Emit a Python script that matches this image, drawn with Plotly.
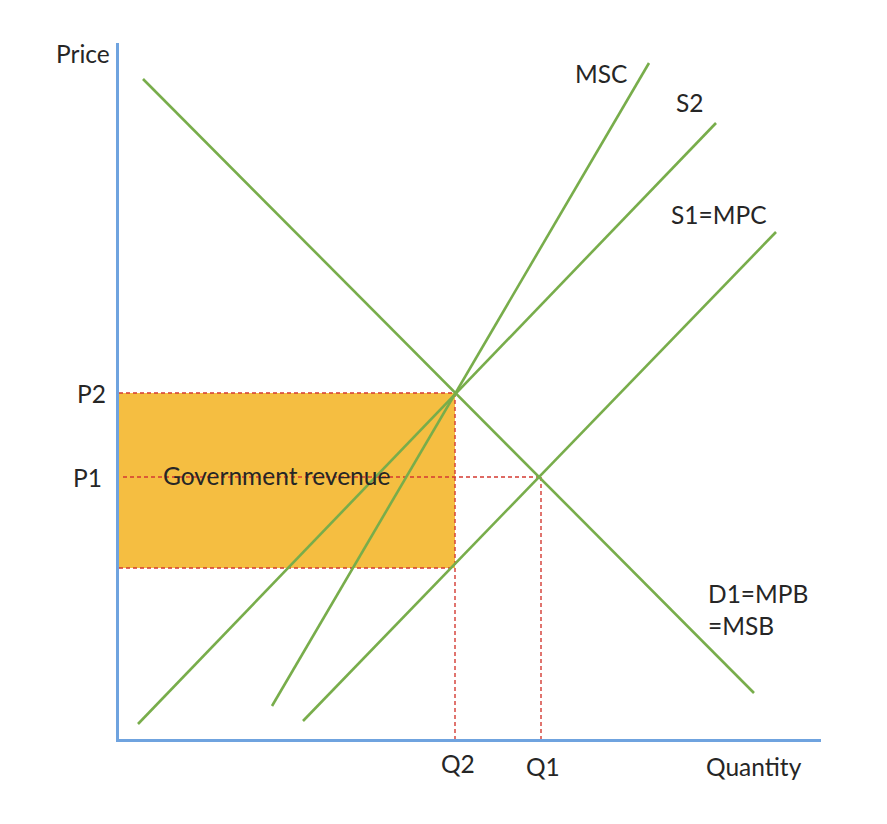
import plotly.graph_objects as go

# Curve endpoints (quantity, price) in chart units
demand_q = [24, 635]
demand_p = [660, 46]
s1_q = [184, 657]
s1_p = [18, 507]
s2_q = [19, 597]
s2_p = [15, 616]
msc_q = [153, 530]
msc_p = [33, 676]

# Equilibrium levels
Q1, Q2 = 422, 336
P1, P2 = 262, 346
P_LOW = 171  # price received by producers after tax

X_MAX, Y_MAX = 702, 696

green = "#78AD4B"
red = "#D33A32"
fontfam = "Lato, 'Open Sans', sans-serif"
txt = "#262626"

fig = go.Figure()

# Government revenue rectangle
fig.add_trace(go.Scatter(
    x=[0, Q2, Q2, 0, 0], y=[P_LOW, P_LOW, P2, P2, P_LOW],
    fill="toself", fillcolor="#F5BE41", line=dict(width=0),
    mode="lines", hoverinfo="skip", showlegend=False))

dash = dict(color=red, width=1.4, dash="4px,3px")
# dashed guide lines
fig.add_trace(go.Scatter(x=[0, Q2], y=[P2, P2], mode="lines", line=dash, showlegend=False))
fig.add_trace(go.Scatter(x=[Q2, Q2], y=[P2, 0], mode="lines", line=dash, showlegend=False))
fig.add_trace(go.Scatter(x=[4, Q1], y=[P1, P1], mode="lines", line=dash, showlegend=False))
fig.add_trace(go.Scatter(x=[Q1, Q1], y=[P1, 0], mode="lines", line=dash, showlegend=False))
fig.add_trace(go.Scatter(x=[0, Q2], y=[P_LOW, P_LOW], mode="lines", line=dash, showlegend=False))

# Curves
for xs, ys in [(demand_q, demand_p), (s1_q, s1_p), (s2_q, s2_p), (msc_q, msc_p)]:
    fig.add_trace(go.Scatter(x=xs, y=ys, mode="lines",
                             line=dict(color=green, width=2.6), showlegend=False))

def ann(x, y, text, xanchor="center"):
    # positions given in chart units, converted to paper fractions so labels
    # outside the axis range are still drawn
    fig.add_annotation(x=x / X_MAX, y=y / Y_MAX, text=text, showarrow=False,
                       xref="paper", yref="paper",
                       xanchor=xanchor, yanchor="middle",
                       font=dict(family=fontfam, size=24.5, color=txt))

ann(-36, 686, "Price")
ann(482, 666, "MSC")
ann(571, 636, "S2")
ann(600, 524, "S1=MPC")
ann(587, 146, "D1=MPB", xanchor="left")
ann(587, 114, "=MSB", xanchor="left")
ann(-11, P2, "P2", xanchor="right")
ann(-15, P1, "P1", xanchor="right")
ann(Q2 + 3, -24, "Q2")
ann(Q1 + 2, -28, "Q1")
ann(635, -27, "Quantity")
ann(42, P1 + 2, "Government revenue", xanchor="left")

fig.update_xaxes(range=[0, X_MAX], showline=True, linecolor="#6FA3DF", linewidth=3,
                 showgrid=False, zeroline=False, showticklabels=False, ticks="",
                 fixedrange=True)
fig.update_yaxes(range=[0, Y_MAX], showline=True, linecolor="#6FA3DF", linewidth=3,
                 showgrid=False, zeroline=False, showticklabels=False, ticks="",
                 fixedrange=True)

fig.update_layout(width=887, height=824, margin=dict(l=111, r=74, t=35, b=93),
                  plot_bgcolor="white", paper_bgcolor="white", showlegend=False)

fig.write_html("out.html")
